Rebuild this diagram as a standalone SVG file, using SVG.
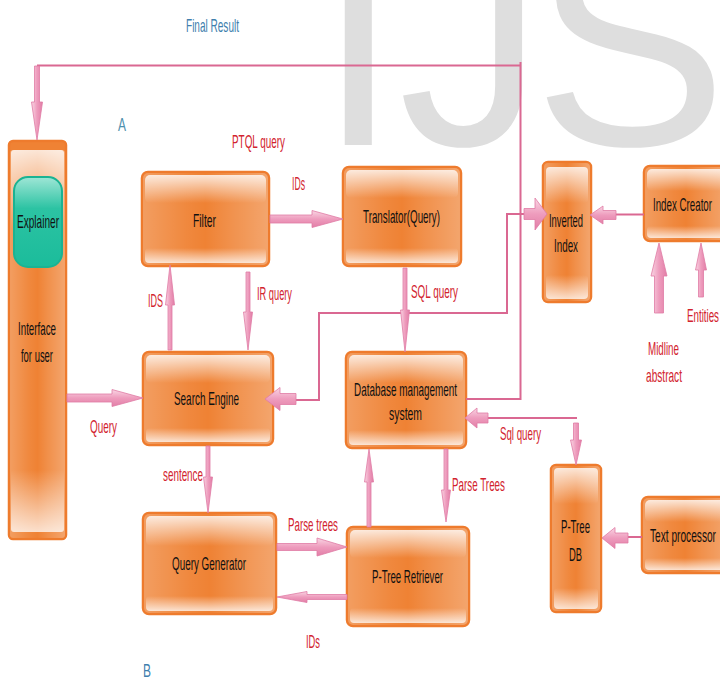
<svg xmlns="http://www.w3.org/2000/svg" width="720" height="679" viewBox="0 0 720 679">
<defs>
<style>
.nb{fill:#EF8234;stroke:#EE7B2D;stroke-width:2.5}
.sd{fill:url(#side)}
.gt{fill:url(#gt)}
.gb{fill:url(#gb)}
.ln{fill:none;stroke:#DA6892;stroke-width:2}
.ah{fill:url(#pinkV);stroke:#E07BA5;stroke-width:0.8}
.av{fill:url(#pinkH);stroke:#E07BA5;stroke-width:0.8}
text{font-family:"Liberation Sans",Arial,sans-serif;font-size:19px}
.t{fill:#111}
.r{fill:#D2232E}
.b{fill:#3F7FAE}
</style>
<linearGradient id="side" x1="0" y1="0" x2="1" y2="0">
<stop offset="0" stop-color="#fff" stop-opacity="0.22"/>
<stop offset="0.35" stop-color="#fff" stop-opacity="0.05"/>
<stop offset="0.5" stop-color="#fff" stop-opacity="0"/>
<stop offset="0.7" stop-color="#fff" stop-opacity="0.12"/>
<stop offset="1" stop-color="#fff" stop-opacity="0.28"/>
</linearGradient>
<linearGradient id="gt" x1="0" y1="0" x2="0" y2="1">
<stop offset="0" stop-color="#fff" stop-opacity="0.8"/>
<stop offset="1" stop-color="#fff" stop-opacity="0"/>
</linearGradient>
<linearGradient id="gb" x1="0" y1="0" x2="0" y2="1">
<stop offset="0" stop-color="#fff" stop-opacity="0"/>
<stop offset="1" stop-color="#fff" stop-opacity="0.75"/>
</linearGradient>
<linearGradient id="pinkV" x1="0" y1="0" x2="0" y2="1">
<stop offset="0" stop-color="#F9D6E4"/>
<stop offset="0.5" stop-color="#EE9CBD"/>
<stop offset="1" stop-color="#E27EA7"/>
</linearGradient>
<linearGradient id="pinkH" x1="0" y1="0" x2="1" y2="0">
<stop offset="0" stop-color="#F9D6E4"/>
<stop offset="0.5" stop-color="#EE9CBD"/>
<stop offset="1" stop-color="#E27EA7"/>
</linearGradient>
<linearGradient id="teal" x1="0" y1="0" x2="0" y2="1">
<stop offset="0" stop-color="#9FE6D6"/>
<stop offset="0.35" stop-color="#2CC3A3"/>
<stop offset="1" stop-color="#1BBC9B"/>
</linearGradient>
</defs>

<text x="318 398.6 533.6" y="145" font-size="290" style="font-size:290px" fill="#DEDEDE">IJS</text>

<g id="interface">
<rect class="nb" x="9" y="141" width="57" height="398" rx="4"/>
<rect class="sd" x="10" y="150" width="55" height="388" rx="3"/>
<rect class="gt" x="11" y="150" width="53" height="80" rx="3"/>
<rect class="gb" x="11" y="470" width="53" height="62" rx="3"/>
<text class="t" x="18" y="335" textLength="38" lengthAdjust="spacingAndGlyphs">Interface</text>
<text class="t" x="21" y="362" textLength="32" lengthAdjust="spacingAndGlyphs">for user</text>
</g>
<g id="explainer">
<rect x="14" y="177" width="48" height="90" rx="14" fill="url(#teal)" stroke="#1AB393" stroke-width="2"/>
<text class="t" x="17" y="228" textLength="42" lengthAdjust="spacingAndGlyphs">Explainer</text>
</g>
<g id="filter">
<rect class="nb" x="142" y="172" width="127" height="94" rx="6"/>
<rect class="sd" x="143" y="173" width="125" height="92" rx="5"/>
<rect class="gt" x="145" y="175" width="121" height="28" rx="5"/>
<rect class="gb" x="145" y="248" width="121" height="15" rx="4"/>
<text class="t" x="193" y="227" textLength="23" lengthAdjust="spacingAndGlyphs">Filter</text>
</g>
<g id="translator">
<rect class="nb" x="343" y="167" width="118" height="99" rx="6"/>
<rect class="sd" x="344" y="168" width="116" height="97" rx="5"/>
<rect class="gt" x="346" y="170" width="112" height="28" rx="5"/>
<rect class="gb" x="346" y="248" width="112" height="15" rx="4"/>
<text class="t" x="363" y="223" textLength="77" lengthAdjust="spacingAndGlyphs">Translator(Query)</text>
</g>
<g id="inverted-index">
<rect class="nb" x="543" y="162" width="48" height="140" rx="5"/>
<rect class="sd" x="544" y="163" width="46" height="138" rx="4"/>
<rect class="gt" x="546" y="167" width="42" height="36" rx="4"/>
<rect class="gb" x="546" y="275" width="42" height="24" rx="4"/>
<text class="t" x="549" y="227" textLength="34" lengthAdjust="spacingAndGlyphs">Inverted</text>
<text class="t" x="554" y="252" textLength="24" lengthAdjust="spacingAndGlyphs">Index</text>
</g>
<g id="index-creator">
<rect class="nb" x="644" y="166" width="84" height="75" rx="6"/>
<rect class="sd" x="645" y="167" width="82" height="73" rx="5"/>
<rect class="gt" x="647" y="169" width="78" height="22" rx="5"/>
<rect class="gb" x="647" y="226" width="78" height="12" rx="4"/>
<text class="t" x="653" y="211" textLength="59" lengthAdjust="spacingAndGlyphs">Index Creator</text>
</g>
<g id="search-engine">
<rect class="nb" x="143" y="352" width="130" height="93" rx="6"/>
<rect class="sd" x="144" y="353" width="128" height="91" rx="5"/>
<rect class="gt" x="146" y="355" width="124" height="28" rx="5"/>
<rect class="gb" x="146" y="428" width="124" height="14" rx="4"/>
<text class="t" x="174" y="405" textLength="65" lengthAdjust="spacingAndGlyphs">Search Engine</text>
</g>
<g id="dbms">
<rect class="nb" x="346" y="352" width="120" height="96" rx="6"/>
<rect class="sd" x="347" y="353" width="118" height="94" rx="5"/>
<rect class="gt" x="349" y="355" width="114" height="28" rx="5"/>
<rect class="gb" x="349" y="430" width="114" height="15" rx="4"/>
<text class="t" x="354" y="396" textLength="103" lengthAdjust="spacingAndGlyphs">Database management</text>
<text class="t" x="389" y="420" textLength="33" lengthAdjust="spacingAndGlyphs">system</text>
</g>
<g id="query-generator">
<rect class="nb" x="143" y="513" width="133" height="101" rx="6"/>
<rect class="sd" x="144" y="514" width="131" height="99" rx="5"/>
<rect class="gt" x="146" y="516" width="127" height="30" rx="5"/>
<rect class="gb" x="146" y="596" width="127" height="15" rx="4"/>
<text class="t" x="172" y="570" textLength="74" lengthAdjust="spacingAndGlyphs">Query Generator</text>
</g>
<g id="ptree-retriever">
<rect class="nb" x="347" y="527" width="122" height="99" rx="6"/>
<rect class="sd" x="348" y="528" width="120" height="97" rx="5"/>
<rect class="gt" x="350" y="530" width="116" height="28" rx="5"/>
<rect class="gb" x="350" y="608" width="116" height="15" rx="4"/>
<text class="t" x="372" y="583" textLength="71" lengthAdjust="spacingAndGlyphs">P-Tree Retriever</text>
</g>
<g id="ptree-db">
<rect class="nb" x="551" y="465" width="50" height="147" rx="5"/>
<rect class="sd" x="552" y="466" width="48" height="145" rx="4"/>
<rect class="gt" x="554" y="468" width="44" height="36" rx="4"/>
<rect class="gb" x="554" y="588" width="44" height="21" rx="4"/>
<text class="t" x="561" y="533" textLength="29" lengthAdjust="spacingAndGlyphs">P-Tree</text>
<text class="t" x="569" y="561" textLength="13" lengthAdjust="spacingAndGlyphs">DB</text>
</g>
<g id="text-processor">
<rect class="nb" x="642" y="497" width="86" height="76" rx="6"/>
<rect class="sd" x="643" y="498" width="84" height="74" rx="5"/>
<rect class="gt" x="645" y="500" width="80" height="22" rx="5"/>
<rect class="gb" x="645" y="558" width="80" height="12" rx="4"/>
<text class="t" x="650" y="542" textLength="66" lengthAdjust="spacingAndGlyphs">Text processor</text>
</g>

<g id="connectors">
<path class="ln" d="M37 65.5 H520.5 M520.5 62 V399 H466"/>
<path class="ln" d="M524 214 H507 V313 H319 V400 H296"/>
<path class="ln" d="M577 418 H488"/>
<path class="ln" d="M644 214.5 H616"/>
<path class="ln" d="M642 537 H628"/>
<polygon class="av" points="34.5,66 39.5,66 39.5,102 42.5,102 37,140 31.5,102 34.5,102"/>
<polygon class="av" points="246,272 250,272 250,312 252.5,312 248,350 243.5,312 246,312"/>
<polygon class="av" points="403,268 407,268 407,310 409.5,310 405,352 400.5,310 403,310"/>
<polygon class="av" points="206,446 210,446 210,477 212.5,477 208,513 203.5,477 206,477"/>
<polygon class="av" points="444,449 448,449 448,490 450.5,490 446,522 441.5,490 444,490"/>
<polygon class="av" points="573.5,423 578.5,423 578.5,440 581.5,440 576,465 570.5,440 573.5,440"/>
<polygon class="av" points="168,350 172,350 172,305 174.5,305 170,265 165.5,305 168,305"/>
<polygon class="av" points="367,527 371,527 371,482 373.5,482 369,449 364.5,482 367,482"/>
<polygon class="av" points="654.5,313 663.5,313 663.5,276 667,276 659,243 651,276 654.5,276"/>
<polygon class="av" points="698.5,297 703.5,297 703.5,270 706.5,270 701,243 695.5,270 698.5,270"/>
<polygon class="ah" points="67,394 112,394 112,389.5 143,398 112,406.5 112,402 67,402"/>
<polygon class="ah" points="270,215 312,215 312,210.5 343,219 312,227.5 312,223 270,223"/>
<polygon class="ah" points="277,543.5 317,543.5 317,538 347,547 317,556 317,550.5 277,550.5"/>
<polygon class="ah" points="524,208.5 535,208.5 535,198 547,214 535,230 535,219.5 524,219.5"/>
<polygon class="ah" points="347,594.5 307,594.5 307,591.5 277,597 307,602.5 307,599.5 347,599.5"/>
<polygon class="ah" points="296,393.5 280,393.5 280,387.5 265,399 280,410.5 280,404.5 296,404.5"/>
<polygon class="ah" points="488,413 477,413 477,408 465,418 477,428 477,423 488,423"/>
<polygon class="ah" points="616,210.5 603,210.5 603,206 590,215 603,224 603,219.5 616,219.5"/>
<polygon class="ah" points="628,533 615,533 615,527.5 602,538 615,548.5 615,543 628,543"/>
</g>

<g id="labels">
<text class="b" x="186" y="32" textLength="53" lengthAdjust="spacingAndGlyphs">Final Result</text>
<text x="118" y="131" textLength="8" lengthAdjust="spacingAndGlyphs" fill="#4E8FAD">A</text>
<text class="r" x="232" y="148" textLength="53" lengthAdjust="spacingAndGlyphs">PTQL query</text>
<text class="r" x="292" y="190" textLength="13" lengthAdjust="spacingAndGlyphs">IDs</text>
<text class="r" x="148" y="307" textLength="15" lengthAdjust="spacingAndGlyphs">IDS</text>
<text class="r" x="257" y="300" textLength="35" lengthAdjust="spacingAndGlyphs">IR query</text>
<text class="r" x="411" y="298" textLength="47" lengthAdjust="spacingAndGlyphs">SQL query</text>
<text class="r" x="687" y="322" textLength="32" lengthAdjust="spacingAndGlyphs">Entities</text>
<text class="r" x="648" y="355" textLength="31" lengthAdjust="spacingAndGlyphs">Midline</text>
<text class="r" x="646" y="382" textLength="36" lengthAdjust="spacingAndGlyphs">abstract</text>
<text class="r" x="90" y="433" textLength="27" lengthAdjust="spacingAndGlyphs">Query</text>
<text class="r" x="500" y="440" textLength="41" lengthAdjust="spacingAndGlyphs">Sql query</text>
<text class="r" x="163" y="481" textLength="40" lengthAdjust="spacingAndGlyphs">sentence</text>
<text class="r" x="452" y="491" textLength="53" lengthAdjust="spacingAndGlyphs">Parse Trees</text>
<text class="r" x="288" y="531" textLength="50" lengthAdjust="spacingAndGlyphs">Parse trees</text>
<text class="r" x="306" y="648" textLength="14" lengthAdjust="spacingAndGlyphs">IDs</text>
<text x="143" y="677" textLength="8" lengthAdjust="spacingAndGlyphs" fill="#3F7FAE">B</text>
</g>
</svg>
